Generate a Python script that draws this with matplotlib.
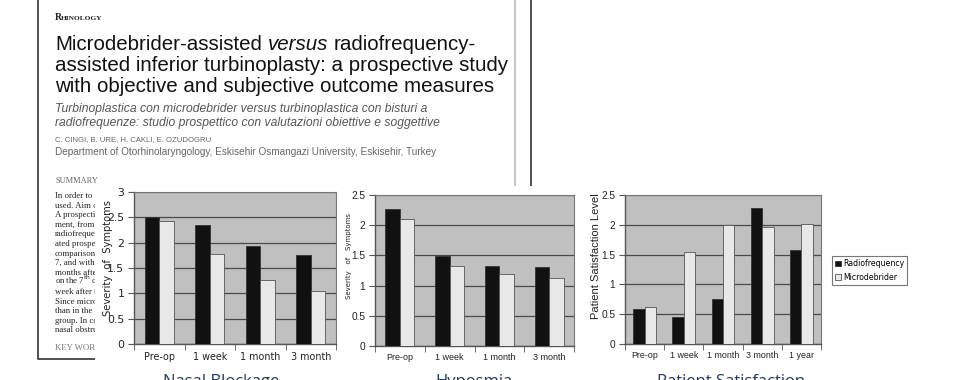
import matplotlib.pyplot as plt
from matplotlib.patches import Rectangle
from matplotlib.lines import Line2D
import numpy as np

# ---- data ----
cats_short = ["Pre-op", "1 week", "1 month", "3 month"]
cats_long = ["Pre-op", "1 week", "1 month", "3 month", "1 year"]

nasal_rf = [2.51, 2.35, 1.93, 1.76]
nasal_md = [2.43, 1.77, 1.27, 1.05]

hyposmia_rf = [2.26, 1.49, 1.33, 1.30]
hyposmia_md = [2.11, 1.33, 1.20, 1.13]

satis_rf = [0.59, 0.46, 0.75, 2.29, 1.57]
satis_md = [0.62, 1.54, 1.99, 1.96, 2.02]

series_names = ["Radiofrequency", "Microdebrider"]
panel_titles = ["Nasal Blockage", "Hyposmia", "Patient Satisfaction"]

W, H = 980, 380
fig = plt.figure(figsize=(W / 100, H / 100), dpi=100)
fig.patch.set_facecolor("white")
renderer = fig.canvas.get_renderer()


def fx(px):
    return px / W


def fy(py):
    return 1 - py / H


def pixel_axes(x0, y0, x1, y1):
    ax = fig.add_axes([fx(x0), fy(y1), fx(x1 - x0), (y1 - y0) / H])
    ax.set_zorder(3)
    return ax


# ==========================================
# background: the paper's first page
# ==========================================
serif = "Liberation Serif"
sans = "Liberation Sans"

fig.text(fx(55), fy(20), "R", fontsize=7, family=serif, weight="bold", color="#222", zorder=1)
fig.text(fx(61), fy(20), "HINOLOGY", fontsize=5.3, family=serif, weight="bold", color="#222", zorder=1)

# title, first line has an italic word in the middle
title_fs = 14.75
space_px = 0.278 * title_fs * 100 / 72
x_cur = 55
for piece, st in [("Microdebrider-assisted", "normal"), ("versus", "italic"), ("radiofrequency-", "normal")]:
    t = fig.text(fx(x_cur), fy(50), piece, fontsize=title_fs, family=sans, style=st,
                 color="#111", zorder=1)
    x_cur = t.get_window_extent(renderer).x1 + space_px
for i, line in enumerate(["assisted inferior turbinoplasty: a prospective study",
                          "with objective and subjective outcome measures"]):
    fig.text(fx(55), fy(71 + i * 21), line, fontsize=title_fs, family=sans, color="#111", zorder=1)

sub_lines = ["Turbinoplastica con microdebrider versus turbinoplastica con bisturi a",
             "radiofrequenze: studio prospettico con valutazioni obiettive e soggettive"]
for i, line in enumerate(sub_lines):
    fig.text(fx(55), fy(112 + i * 14), line, fontsize=8.7, family=sans, style="italic",
             color="#555", zorder=1)

fig.text(fx(55), fy(141), "C. CINGI, B. URE, H. CAKLI, E. OZUDOGRU", fontsize=5.6,
         family=sans, color="#666", zorder=1)
fig.text(fx(55), fy(155), "Department of Otorhinolaryngology, Eskisehir Osmangazi University, Eskisehir, Turkey",
         fontsize=7.2, family=sans, color="#666", zorder=1)
fig.text(fx(55), fy(183), "SUMMARY", fontsize=6, family=serif, color="#666", zorder=1)

# summary column, hidden behind the charts past x = 95
body = ["In order to r", "used. Aim o", "A prospecti", "ment, from",
        "radiofrequen", "ated prospe", "comparison", "7, and withi",
        "months afte", "on the 7$^{\\rm th}$ da", "week after t", "Since micro",
        "than in the", "group. In co", "nasal obstru"]
for i, line in enumerate(body):
    fig.text(fx(55), fy(198 + i * 9.6), line, fontsize=6.3, family=serif, color="#222", zorder=1)
fig.text(fx(55), fy(350), "KEY WORD", fontsize=6.3, family=serif, color="#777", zorder=1)

# page frame
fig.add_artist(Line2D([fx(38), fx(38), fx(95)], [fy(0), fy(359), fy(359)], color="#333", lw=1.2, zorder=1))
fig.add_artist(Line2D([fx(515), fx(515)], [fy(0), fy(186)], color="#bbb", lw=1.2, zorder=1))
fig.add_artist(Line2D([fx(531), fx(531)], [fy(0), fy(186)], color="#333", lw=1.2, zorder=1))

# white sheet on which the charts sit
fig.add_artist(Rectangle((fx(95), 0), 1, fy(186), transform=fig.transFigure,
                         facecolor="white", edgecolor="none", zorder=2))


# ==========================================
# the three bar charts
# ==========================================
def draw_panel(ax, cats, rf, md, ymax, font, ytick_fs, xtick_fs, xpad):
    x = np.arange(len(cats))
    w = 0.29
    ax.bar(x - w / 2, rf, w, color="#111", edgecolor="#333", lw=0.6, label=series_names[0], zorder=3)
    ax.bar(x + w / 2, md, w, color="#e8e8e8", edgecolor="#555", lw=0.6, label=series_names[1], zorder=3)
    ax.set_xlim(-0.5, len(cats) - 0.5)
    ax.set_ylim(0, ymax)
    yt = np.arange(0, ymax + 0.01, 0.5)
    ax.set_yticks(yt)
    ax.set_yticklabels([f"{v:g}" for v in yt], fontsize=ytick_fs, family=font, color="#222")
    ax.set_xticks(x)
    ax.set_xticklabels(cats, fontsize=xtick_fs, family=font, color="#222")
    ax.set_xticks(np.arange(-0.5, len(cats)), minor=True)
    ax.tick_params(axis="x", which="major", length=0, pad=xpad)
    ax.tick_params(axis="x", which="minor", length=4, color="#555")
    ax.tick_params(axis="y", length=4, color="#555", pad=3)
    ax.set_facecolor("#c0c0c0")
    ax.grid(axis="y", color="#4a4a4a", lw=0.9, zorder=1)
    ax.set_axisbelow(True)
    for side in ["top", "right"]:
        ax.spines[side].set_color("#777")
        ax.spines[side].set_linewidth(0.8)
    for side in ["left", "bottom"]:
        ax.spines[side].set_color("#555")
        ax.spines[side].set_linewidth(1.0)


ax1 = pixel_axes(134, 192, 336, 344)
draw_panel(ax1, cats_short, nasal_rf, nasal_md, 3, "DejaVu Sans", 7.8, 6.9, 6)
ax1.set_ylabel("Severity  of  Symptoms", fontsize=7.2, family="DejaVu Sans", color="#222")
ax1.yaxis.set_label_coords((113 - 134) / 202, (344 - 258) / 152)

ax2 = pixel_axes(375, 195, 574, 346)
draw_panel(ax2, cats_short, hyposmia_rf, hyposmia_md, 2.5, sans, 7.3, 6.5, 5)
ax2.set_ylabel("Severity   of   Symptoms", fontsize=5, family="DejaVu Sans", color="#222")
ax2.yaxis.set_label_coords((352 - 375) / 199, (346 - 256) / 151)

ax3 = pixel_axes(625, 195, 821, 344)
draw_panel(ax3, cats_long, satis_rf, satis_md, 2.5, sans, 7.3, 6.4, 5)
ax3.set_ylabel("Patient Satisfaction Level", fontsize=8, family=sans, color="#222")
ax3.yaxis.set_label_coords((601 - 625) / 196, (344 - 256) / 149)
leg = ax3.legend(loc="upper left", bbox_to_anchor=(fx(832), fy(256)), bbox_transform=fig.transFigure,
                 fontsize=5.6, frameon=True, fancybox=False, handlelength=0.7, handleheight=0.7,
                 handletextpad=0.3, borderpad=0.4, labelspacing=0.6, borderaxespad=0)
leg.get_frame().set_edgecolor("#555")
leg.get_frame().set_linewidth(0.8)

# panel captions, cut off by the bottom edge as in the source
for xpos, txt in zip([163, 435, 657], panel_titles):
    fig.text(fx(xpos), fy(386), txt, fontsize=12, family="Open Sans", color="#1f3868",
             va="baseline", zorder=4)

fig.savefig("out.png", dpi=100)
